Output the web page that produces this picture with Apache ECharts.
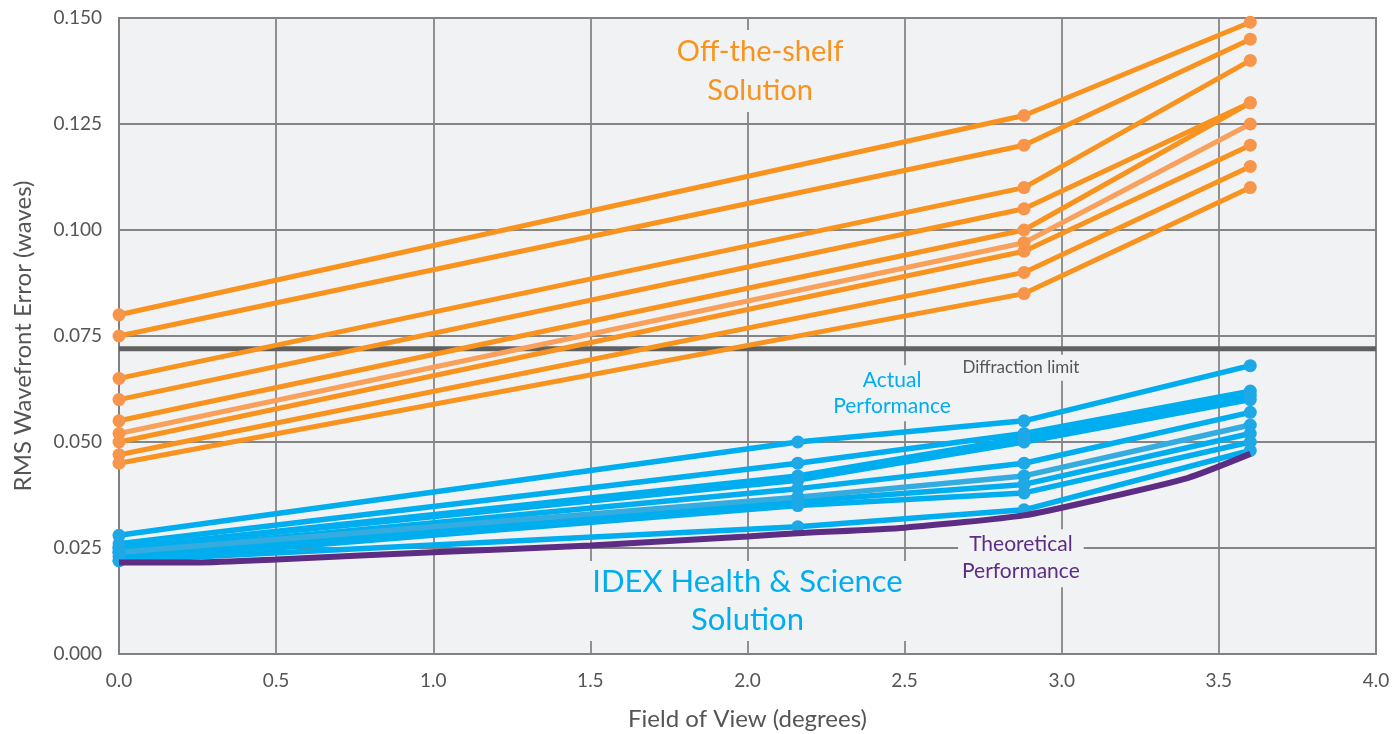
<!DOCTYPE html>
<html>
<head>
<meta charset="utf-8">
<script src="https://cdn.jsdelivr.net/npm/echarts@6/dist/echarts.min.js"></script>
<style>
html,body{margin:0;padding:0;background:#fff;}
#chart{width:1399px;height:734px;}
</style>
</head>
<body>
<div id="chart"></div>
<script>
// ---- data ----
var xTicks = [0, 0.5, 1.0, 1.5, 2.0, 2.5, 3.0, 3.5, 4.0];
var yTicks = [0, 0.025, 0.05, 0.075, 0.1, 0.125, 0.15];

var offShelfX = [0, 2.88, 3.6];
var offShelf1 = [0.080, 0.127, 0.149];
var offShelf2 = [0.075, 0.120, 0.145];
var offShelf3 = [0.065, 0.110, 0.140];
var offShelf4 = [0.060, 0.105, 0.130];
var offShelf5 = [0.055, 0.100, 0.130];
var offShelf6 = [0.052, 0.097, 0.125]; // lighter line
var offShelf7 = [0.050, 0.095, 0.120];
var offShelf8 = [0.047, 0.090, 0.115];
var offShelf9 = [0.045, 0.085, 0.110];

var actualX = [0, 2.16, 2.88, 3.6];
var actual1 = [0.028, 0.050, 0.055, 0.068];
var actual2 = [0.026, 0.045, 0.052, 0.062];
var actual3 = [0.025, 0.042, 0.051, 0.061];
var actual4 = [0.025, 0.041, 0.050, 0.060];
var actual5 = [0.024, 0.039, 0.045, 0.057];
var actual6 = [0.024, 0.037, 0.042, 0.054]; // lighter line
var actual7 = [0.023, 0.036, 0.040, 0.052];
var actual8 = [0.022, 0.035, 0.038, 0.050];
var actual9 = [0.022, 0.030, 0.034, 0.048];

var theoreticalX = [0, 0.25, 0.5, 1.0, 1.5, 2.0, 2.16, 2.5, 2.88, 3.12, 3.4, 3.6];
var theoreticalY = [0.0216, 0.0216, 0.0223, 0.0240, 0.0256, 0.0277, 0.0285, 0.0298, 0.0327, 0.0365, 0.0415, 0.0472];

var diffractionX = [0, 4];
var diffractionY = [0.072, 0.072];

var annotationText = ['Off-the-shelf\nSolution', 'Actual\nPerformance', 'Diffraction limit', 'IDEX Health & Science\nSolution', 'Theoretical\nPerformance'];
var annotationX = [2.04, 2.46, 2.87, 2.0, 2.87];
var annotationY = [0.1375, 0.0615, 0.0675, 0.0125, 0.0226];
var annotationStyle = ['big', 'blue', 'grey', 'bigblue', 'purple'];

// ---- build ----
function pairs(xs, ys){ return xs.map(function(x,i){ return [x, ys[i]]; }); }

var ORANGE = '#f7931e', ORANGE_DOT = '#f7964a', ORANGE_LIGHT = '#f9a05a';
var BLUE = '#00aeef', BLUE_DOT = '#1ea8e6', BLUE_LIGHT = '#35ace0';
var PURPLE = '#5c2d82';
var BG = '#f1f2f4';
var FONT = 'Lato';

var series = [];
series.push({
  type:'line', name:'Diffraction limit', data: pairs(diffractionX, diffractionY),
  showSymbol:false, symbol:'none', lineStyle:{color:'#606060', width:5}, z:2, silent:true
});

var orangeSets = [offShelf1, offShelf2, offShelf3, offShelf4, offShelf5, offShelf6, offShelf7, offShelf8, offShelf9];
orangeSets.forEach(function(s, i){
  var light = (i === 5);
  series.push({
    type:'line', data: pairs(offShelfX, s), symbol:'circle', symbolSize:13,
    lineStyle:{color: light ? ORANGE_LIGHT : ORANGE, width:5},
    itemStyle:{color: ORANGE_DOT}, z: light ? 4 : 3, silent:true
  });
});

var blueSets = [actual1, actual2, actual3, actual4, actual5, actual6, actual7, actual8, actual9];
blueSets.forEach(function(s, i){
  var light = (i === 5);
  series.push({
    type:'line', data: pairs(actualX, s), symbol:'circle', symbolSize:13,
    lineStyle:{color: light ? BLUE_LIGHT : BLUE, width:5.5},
    itemStyle:{color: BLUE_DOT}, z: light ? 4 : 3, silent:true
  });
});

series.push({
  type:'line', name:'Theoretical', data: pairs(theoreticalX, theoreticalY), symbol:'none',
  smooth:0.2, lineStyle:{color:PURPLE, width:6}, z:5, silent:true
});

var styleMap = {
  big:    {color:ORANGE, fontSize:29, lineHeight:39},
  bigblue:{color:BLUE, fontSize:31, lineHeight:38},
  blue:   {color:BLUE, fontSize:21, lineHeight:26},
  grey:   {color:'#555555', fontSize:17, lineHeight:22},
  purple: {color:PURPLE, fontSize:21, lineHeight:27}
};
series.push({
  type:'scatter', symbolSize:0, silent:true, z:6,
  itemStyle:{opacity:1},
  data: annotationX.map(function(x,i){
    var st = styleMap[annotationStyle[i]];
    return {
      value:[x, annotationY[i]],
      label:{
        show:true, position:'inside', formatter: annotationText[i],
        color: st.color, fontSize: st.fontSize, lineHeight: st.lineHeight,
        fontFamily: FONT, align:'center', verticalAlign:'middle',
        backgroundColor: BG, padding:[2,4], opacity:1
      }
    };
  }),
  labelLayout:{hideOverlap:false}
});

var option = {
  animation:false,
  backgroundColor:'#ffffff',
  grid:{left:119, right:23, top:18, bottom:80, show:true, backgroundColor:BG, borderColor:'#808080', borderWidth:2,
        containLabel:false, outerBoundsMode:'none'},
  xAxis:{
    type:'value', min:xTicks[0], max:xTicks[xTicks.length-1], interval:0.5,
    name:'Field of View (degrees)', nameLocation:'middle', nameGap:53,
    nameTextStyle:{color:'#555', fontSize:24, fontFamily:FONT},
    axisLine:{show:true, lineStyle:{color:'#808080', width:2}},
    axisTick:{show:false},
    axisLabel:{color:'#555', fontSize:19, fontFamily:FONT, margin:17, formatter:function(v){return v.toFixed(1);}},
    splitLine:{show:true, lineStyle:{color:'#858585', width:1.8}}
  },
  yAxis:{
    type:'value', min:yTicks[0], max:yTicks[yTicks.length-1], interval:0.025,
    name:'RMS Wavefront Error (waves)', nameLocation:'middle', nameGap:84,
    nameTextStyle:{color:'#555', fontSize:24, fontFamily:FONT},
    axisLine:{show:true, lineStyle:{color:'#808080', width:2}},
    axisTick:{show:false},
    axisLabel:{color:'#555', fontSize:19, fontFamily:FONT, margin:17, formatter:function(v){return v.toFixed(3);}},
    splitLine:{show:true, lineStyle:{color:'#858585', width:1.8}}
  },
  series: series
};

var chart = echarts.init(document.getElementById('chart'), null, {renderer:'canvas'});
chart.setOption(option);
</script>
</body>
</html>
